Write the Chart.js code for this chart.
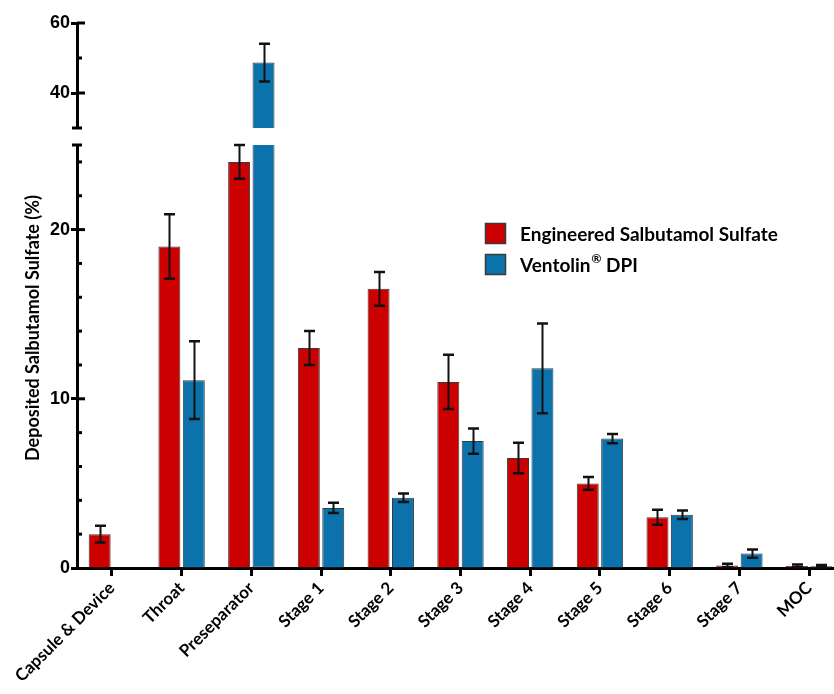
<!DOCTYPE html>
<html><head><meta charset="utf-8">
<script src="https://cdn.jsdelivr.net/npm/chart.js@4.4.0/dist/chart.umd.min.js"></script>
<style>html,body{margin:0;padding:0;background:#fff;overflow:hidden;width:834px;height:694px}canvas{display:block}</style>
</head><body>
<canvas id="c" width="850" height="694"></canvas>
<script>
// ---- data ----
const categories = ['Capsule & Device','Throat','Preseparator','Stage 1','Stage 2','Stage 3','Stage 4','Stage 5','Stage 6','Stage 7','MOC'];
const seriesNames = ['Engineered Salbutamol Sulfate','Ventolin® DPI'];
const engineeredMean = [2.0, 19.0, 24.0, 13.0, 16.5, 11.0, 6.5, 5.0, 3.0, 0.15, 0.12];
const engineeredSD   = [0.5, 1.9, 1.0, 1.0, 1.0, 1.6, 0.9, 0.38, 0.45, 0.1, 0.08];
const ventolinMean   = [null, 11.1, 48.7, 3.55, 4.15, 7.5, 11.8, 7.65, 3.15, 0.85, 0.1];
const ventolinSD     = [null, 2.3, 5.4, 0.3, 0.25, 0.75, 2.65, 0.27, 0.25, 0.25, 0.07];
const lowerRange = [0, 25];
const upperRange = [30, 60];
const lowerTicks = [0, 10, 20];
const upperTicks = [40, 60];
const lowerMinorStep = 2;
const upperMinorStep = 10;
const yTitle = 'Deposited Salbutamol Sulfate (%)';

const RED = '#cc0000', BLUE = '#0b72ab', EDGE = '#3a3a3a';

const lowPart = arr => arr.map(v => v == null ? null : Math.min(v, lowerRange[1]));
const upPart = arr => arr.map(v => (v != null && v > upperRange[0]) ? v : null);

function ds(label, data, color, axis, stack, mean, sd, part) {
  return {
    label, data, yAxisID: axis, stack,
    backgroundColor: color, borderColor: EDGE, borderWidth: 1,
    borderSkipped: part === 'low' ? (c => { const v = mean[c.dataIndex]; return (v != null && v > lowerRange[1]) ? 'end' : 'start'; }) : 'start',
    base: part === 'up' ? upperRange[0] : undefined,
    errMean: mean, errSD: sd, part,
    categoryPercentage: 0.70, barPercentage: 0.9
  };
}

const datasets = [
  ds(seriesNames[0], lowPart(engineeredMean), RED, 'yLow', 'eng', engineeredMean, engineeredSD, 'low'),
  ds(seriesNames[1], lowPart(ventolinMean), BLUE, 'yLow', 'ven', ventolinMean, ventolinSD, 'low'),
  ds(seriesNames[0], upPart(engineeredMean), RED, 'yUp', 'eng', engineeredMean, engineeredSD, 'up'),
  ds(seriesNames[1], upPart(ventolinMean), BLUE, 'yUp', 'ven', ventolinMean, ventolinSD, 'up')
];

const errorBarPlugin = {
  id: 'errorBars',
  afterDatasetsDraw(chart) {
    const ctx = chart.ctx;
    ctx.save();
    ctx.strokeStyle = '#111';
    chart.data.datasets.forEach((d, di) => {
      const meta = chart.getDatasetMeta(di);
      const sc = chart.scales[d.yAxisID];
      d.errMean.forEach((m, i) => {
        const sd = d.errSD[i];
        if (m == null || sd == null || d.data[i] == null) return;
        if (m < sc.min || m > sc.max) return;
        const bar = meta.data[i]; if (!bar) return;
        const x = Math.round(bar.x) + 0.5;
        const yt = sc.getPixelForValue(m + sd);
        const yb = sc.getPixelForValue(Math.max(m - sd, 0));
        ctx.lineWidth = 2;
        ctx.beginPath(); ctx.moveTo(x, yt); ctx.lineTo(x, yb); ctx.stroke();
        ctx.lineWidth = 2.5;
        ctx.beginPath();
        ctx.moveTo(x - 5.5, yt); ctx.lineTo(x + 5.5, yt);
        ctx.moveTo(x - 5.5, yb); ctx.lineTo(x + 5.5, yb);
        ctx.stroke();
      });
    });
    ctx.restore();
  }
};

const axisDecorPlugin = {
  id: 'axisDecor',
  afterDraw(chart) {
    const ctx = chart.ctx;
    const lo = chart.scales.yLow, up = chart.scales.yUp;
    const ax = lo.right;
    ctx.save();
    ctx.strokeStyle = '#000'; ctx.lineWidth = 3;
    const h = (sc, v, a, b) => { const y = sc.getPixelForValue(v); ctx.beginPath(); ctx.moveTo(ax + a, y); ctx.lineTo(ax + b, y); ctx.stroke(); };
    for (let v = lowerRange[0]; v < lowerRange[1]; v += lowerMinorStep) {
      if (lowerTicks.includes(v)) { if (v !== 0) h(lo, v, 0, 8); } else h(lo, v, 0, 5);
    }
    h(lo, lowerRange[1], -5, 5);
    for (let v = upperRange[0] + upperMinorStep; v <= upperRange[1]; v += upperMinorStep) {
      if (upperTicks.includes(v)) h(up, v, 0, 8); else h(up, v, 0, 5);
    }
    h(up, upperRange[0], -5, 5);
    // y title
    ctx.fillStyle = '#000';
    ctx.font = 'bold 18px Lato';
    ctx.textAlign = 'center'; ctx.textBaseline = 'middle';
    ctx.translate(33, 328); ctx.rotate(-Math.PI / 2);
    ctx.fillText(yTitle, 0, 0);
    ctx.restore();
  }
};

const legendPlugin = {
  id: 'customLegend',
  afterDraw(chart) {
    const ctx = chart.ctx;
    ctx.save();
    const items = [0, 1].map(i => chart.data.datasets[i]);
    items.forEach((d, k) => {
      const bx = 485, by = 223 + k * 31, s = 21;
      ctx.fillStyle = d.backgroundColor; ctx.fillRect(bx, by, s, s);
      ctx.strokeStyle = EDGE; ctx.lineWidth = 1.5; ctx.strokeRect(bx + 0.5, by + 0.5, s - 1, s - 1);
      ctx.fillStyle = '#000'; ctx.textBaseline = 'middle'; ctx.textAlign = 'left';
      const cy = by + s / 2 + 1;
      let x = 520;
      const parts = d.label.split('®');
      ctx.font = 'bold 19px Lato';
      ctx.fillText(parts[0], x, cy);
      if (parts.length > 1) {
        x += ctx.measureText(parts[0]).width + 1;
        ctx.font = 'bold 12px Lato';
        ctx.fillText('®', x, cy - 6);
        x += ctx.measureText('®').width;
        ctx.font = 'bold 19px Lato';
        ctx.fillText(parts[1], x, cy);
      }
    });
    ctx.restore();
  }
};

const tickFont = { family: 'Liberation Sans', weight: 'bold', size: 18 };
const yCommon = (min, max, ticksArr, weight) => ({
  type: 'linear', position: 'left', stack: 'v', stackWeight: weight, stacked: false,
  min, max,
  afterBuildTicks: s => { s.ticks = ticksArr.map(v => ({ value: v })); },
  afterFit: s => { s.width = 77; },
  ticks: { font: tickFont, color: '#000', padding: 1 },
  grid: { display: true, drawOnChartArea: false, tickLength: 6, tickWidth: 3, color: '#000' },
  border: { display: true, width: 3, color: '#000' }
});

new Chart(document.getElementById('c'), {
  type: 'bar',
  data: { labels: categories, datasets },
  options: {
    responsive: false, animation: false, devicePixelRatio: 1,
    layout: { padding: { top: 23, right: 6, left: 0, bottom: 0 } },
    plugins: { legend: { display: false }, tooltip: { enabled: false } },
    scales: {
      yLow: yCommon(lowerRange[0], lowerRange[1], lowerTicks, 423),
      yGap: {
        type: 'linear', position: 'left', stack: 'v', stackWeight: 17, min: 0, max: 1,
        afterFit: s => { s.width = 77; },
        ticks: { display: false }, grid: { display: false }, border: { display: false }
      },
      yUp: yCommon(upperRange[0], upperRange[1], upperTicks, 105),
      x: {
        type: 'category', position: 'bottom', z: 1,
        afterFit: s => { s.height = 126; },
        ticks: { font: { family: 'Lato', weight: 'bold', size: 17 }, color: '#000', minRotation: 45, maxRotation: 45, padding: 2, autoSkip: false },
        grid: { display: true, offset: false, drawOnChartArea: false, tickLength: 8, tickWidth: 3, color: '#000' },
        border: { display: true, width: 3, color: '#000' }
      }
    }
  },
  plugins: [errorBarPlugin, axisDecorPlugin, legendPlugin]
});
</script>
</body></html>
